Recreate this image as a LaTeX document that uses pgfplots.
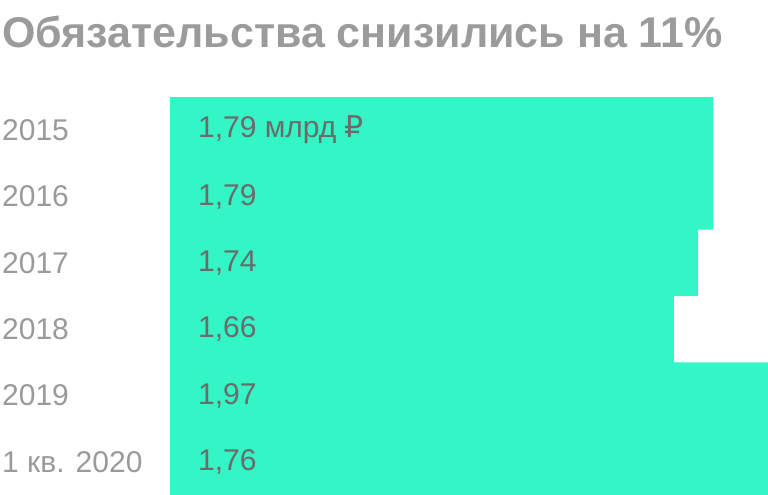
\documentclass[border=0pt]{standalone}
\usepackage{fontspec}
\setmainfont{Liberation Sans}
\newfontfamily\rub{DejaVu Sans}
\usepackage{pgfplots}
\pgfplotsset{compat=1.18}

\definecolor{barcol}{HTML}{33F5C5}
\definecolor{titlegray}{HTML}{9B9B9B}
\definecolor{yeargray}{HTML}{9A9A9A}
\definecolor{valgray}{HTML}{6B6B6B}

\begin{document}
\begin{tikzpicture}
  \useasboundingbox (0,0) rectangle (768bp,495bp);

  \node[anchor=base west, inner sep=0, text=titlegray,
        font=\fontsize{43bp}{50bp}\selectfont\bfseries]
    at (2bp,447bp) {Обязательства снизились на 11\%};

  \begin{axis}[
      at={(170bp,0bp)}, anchor=south west,
      scale only axis,
      width=598bp, height=398bp,
      xmin=0, xmax=1.97,
      ymin=-0.5, ymax=5.5,
      y dir=reverse,
      bar width=1,
      axis line style={draw=none},
      tick style={draw=none},
      xtick=\empty,
      ytick={0,...,5},
      yticklabels={2015,2016,2017,2018,2019,1 кв. 2020},
      yticklabel style={anchor=west, inner sep=0, xshift=-168bp,
                        text=yeargray, font=\fontsize{30bp}{36bp}\selectfont},
    ]
    % bar lengths as drawn (the last one runs off the right edge)
    \addplot[xbar, fill=barcol, draw=none] coordinates {
      (1.79,0) (1.79,1) (1.74,2) (1.66,3) (1.97,4) (1.97,5)
    };
    % value labels at the start of each bar
    \addplot[draw=none, mark=none,
             nodes near coords, point meta=explicit symbolic,
             every node near coord/.style={anchor=west, inner sep=0,
               text=valgray, font=\fontsize{30bp}{36bp}\selectfont}]
      table[row sep=\\, col sep=semicolon, x=x, y=y, meta=label] {
        x;y;label\\
        0.092;0;1,79 млрд {\rub ₽}\\
        0.092;1;1,79\\
        0.092;2;1,74\\
        0.092;3;1,66\\
        0.092;4;1,97\\
        0.092;5;1,76\\
      };
  \end{axis}
\end{tikzpicture}
\end{document}
